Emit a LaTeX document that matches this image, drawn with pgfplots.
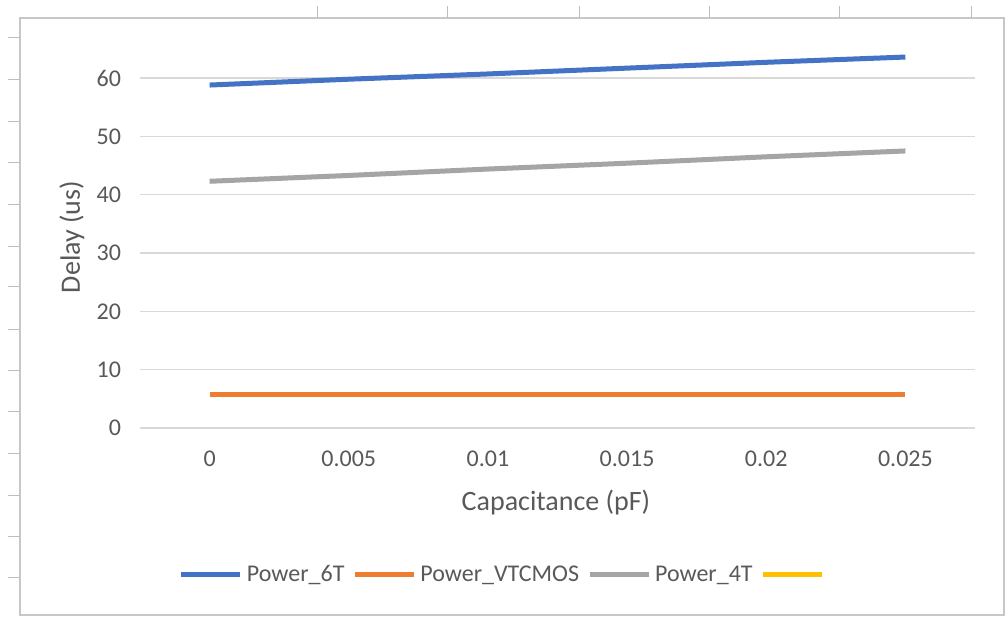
\documentclass[border=0pt]{standalone}
\usepackage{pgfplots}
\pgfplotsset{compat=1.18}
\usepackage{fontspec}
\setmainfont{Carlito}
\definecolor{cblue}{HTML}{4472C4}
\definecolor{corange}{HTML}{ED7D31}
\definecolor{cgray}{HTML}{A5A5A5}
\definecolor{cyellow}{HTML}{FFC000}
\definecolor{txt}{HTML}{595959}
\definecolor{gridc}{HTML}{D9D9D9}
\begin{document}
\begin{tikzpicture}
% canvas: 1 px = 0.5bp, origin top-left
\path[fill=white] (0,0) rectangle (503bp,-308.5bp);
\draw[gridc!80!gray, line width=0.6bp] (10bp,-9bp) rectangle (502bp,-307.5bp);
% spreadsheet gridline stubs
\foreach \yy in {38,80,122,163,205,247,287,330,371,412,454,496,537,578}
  \draw[gridc!70!gray, line width=0.5bp] (4bp,-\yy*0.5bp) -- (10bp,-\yy*0.5bp);
\foreach \xx in {318,448,580,710,840,972}
  \draw[gridc!70!gray, line width=0.5bp] (\xx*0.5bp,-3bp) -- (\xx*0.5bp,-9bp);
\begin{axis}[
  at={(70bp,-214bp)}, anchor=south west,
  scale only axis, width=417.5bp, height=204.15bp,
  xmin=-0.0025, xmax=0.0275, ymin=0, ymax=70,
  axis line style={draw=none},
  xmajorgrids=false, ymajorgrids=true,
  major grid style={draw=gridc, line width=0.6bp},
  ytick={0,10,...,60},
  xtick={0,0.005,0.01,0.015,0.02,0.025},
  xticklabels={0,0.005,0.01,0.015,0.02,0.025},
  scaled x ticks=false,
  major tick length=0pt, tick style={draw=none},
  ticklabel style={font=\fontsize{12bp}{14bp}\selectfont, text=txt},
  yticklabel style={xshift=-6bp},
  xticklabel style={yshift=-8bp},
  /pgf/number format/assume math mode=true,
  legend columns=4,
  legend style={draw=none, fill=none, at={(0.438,-0.36)}, anchor=center,
    font=\fontsize{12bp}{14bp}\selectfont, text=txt,
    /tikz/every even column/.append style={column sep=2bp},
    inner sep=0pt},
  legend image code/.code={\draw[#1, line width=2.5bp] (0bp,0bp) -- (29.5bp,0bp);},
]
\addplot[cblue, line width=2.5bp] coordinates {(0,58.8) (0.005,59.8) (0.01,60.7) (0.015,61.7) (0.02,62.7) (0.025,63.6)};
\addlegendentry{Power\_6T}
\addplot[corange, line width=2.5bp] coordinates {(0,5.8) (0.005,5.8) (0.01,5.8) (0.015,5.8) (0.02,5.8) (0.025,5.8)};
\addlegendentry{Power\_VTCMOS}
\addplot[cgray, line width=2.5bp] coordinates {(0,42.3) (0.005,43.3) (0.01,44.4) (0.015,45.4) (0.02,46.5) (0.025,47.5)};
\addlegendentry{Power\_4T}
\addlegendimage{cyellow, line width=2.5bp}
\addlegendentry{}
\end{axis}
\node[text=txt, font=\fontsize{14bp}{16bp}\selectfont] at (278bp,-251.5bp) {Capacitance (pF)};
\node[text=txt, font=\fontsize{14bp}{16bp}\selectfont, rotate=90] at (36bp,-118.5bp) {Delay (us)};
\end{tikzpicture}
\end{document}
